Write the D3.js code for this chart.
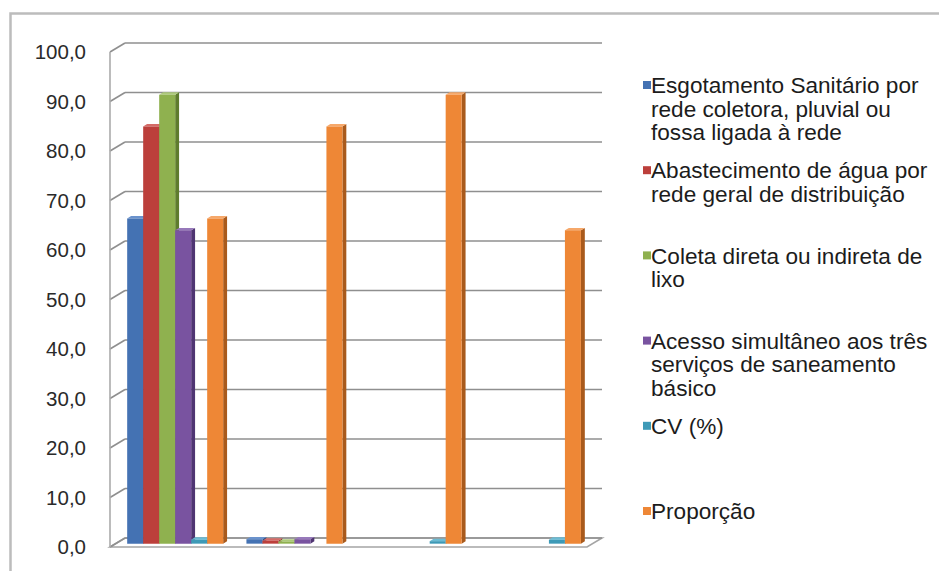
<!DOCTYPE html>
<html>
<head>
<meta charset="utf-8">
<script src="https://cdn.jsdelivr.net/npm/d3@7"></script>
<style>
  html, body { margin: 0; padding: 0; background: #ffffff; }
  svg { display: block; }
  text { font-family: "Liberation Sans", Arial, Helvetica, sans-serif; }
</style>
</head>
<body>
<svg id="chart" width="939" height="571"></svg>
<script>
// ---- data ----
const categories = ["c1", "c2", "c3", "c4"];

const seriesNames = [
  "Esgotamento Sanitário por rede coletora, pluvial ou fossa ligada à rede",
  "Abastecimento de água por rede geral de distribuição",
  "Coleta direta ou indireta de lixo",
  "Acesso simultâneo aos três serviços de saneamento básico",
  "CV (%)",
  "Proporção"
];

const legendLines = [
  ["Esgotamento Sanitário por", "rede coletora, pluvial ou", "fossa ligada à rede"],
  ["Abastecimento de água por", "rede geral de distribuição"],
  ["Coleta direta ou indireta de", "lixo"],
  ["Acesso simultâneo aos três", "serviços de saneamento", "básico"],
  ["CV (%)"],
  ["Proporção"]
];

const esgotamento   = [65.7, 0.9, 0, 0];
const abastecimento = [84.3, 0.6, 0, 0];
const coleta        = [90.7, 0.4, 0, 0];
const acesso        = [63.3, 0.9, 0, 0];
const cv            = [0.8, 0, 0.5, 0.8];
const proporcao     = [65.7, 84.3, 90.7, 63.3];

const yTicks = [0, 10, 20, 30, 40, 50, 60, 70, 80, 90, 100];

// ---- styles ----
const frontColors = ["#4472b3", "#bc3f3b", "#8fb14f", "#7953a0", "#3e9ab7", "#ee8736"];
const sideColors  = ["#2b4f86", "#862a27", "#5f7c2e", "#4f3572", "#27708a", "#a95a1c"];
const topColors   = ["#6a92cc", "#d46b67", "#acc97a", "#9779ba", "#6bbbd3", "#f6a86a"];

const seriesValues = [esgotamento, abastecimento, coleta, acesso, cv, proporcao];

const svg = d3.select("#chart");
const W = 939, H = 571;

// outer frame (top and left edges)
svg.append("path")
  .attr("d", `M10.5,${H + 2} L10.5,13.5 L${W + 2},13.5`)
  .attr("fill", "none")
  .attr("stroke", "#bcbcbc")
  .attr("stroke-width", 2.5);

// ---- scales & projection ----
const plot = { left: 110, right: 587, bottom: 547, top: 52 };
const depth = { dx: 15, dy: -9 };

const y = d3.scaleLinear().domain([0, 100]).range([plot.bottom, plot.top]);
const x = d3.scaleBand().domain(categories)
  .range([plot.left, plot.right])
  .paddingInner(0.195).paddingOuter(0.0975);
const xs = d3.scaleBand().domain(d3.range(seriesValues.length)).range([0, x.bandwidth()]);

// oblique projection: t = 0 front plane, t = 1 back wall
const P = (px, py, t) => [px + t * depth.dx, py + t * depth.dy];
const poly = pts => "M" + pts.map(p => p.join(",")).join("L") + "Z";

const fmt = d3.formatLocale({ decimal: ",", thousands: ".", grouping: [3], currency: ["R$", ""] }).format(".1f");

// ---- walls & gridlines ----
const grid = svg.append("g").attr("fill", "none").attr("stroke", "#8f8f8f").attr("stroke-width", 1.6);

// floor
grid.append("path")
  .attr("d", poly([P(plot.left, y(0), 0), P(plot.right, y(0), 0), P(plot.right, y(0), 1), P(plot.left, y(0), 1)]))
  .attr("stroke", "#a5a5a5");

yTicks.forEach(v => {
  // side wall
  grid.append("path")
    .attr("d", "M" + P(plot.left, y(v), 0).join(",") + "L" + P(plot.left, y(v), 1).join(","));
  // back wall
  grid.append("path")
    .attr("d", "M" + P(plot.left, y(v), 1).join(",") + "L" + P(plot.right, y(v), 1).join(","));
});

// value axis line
grid.append("path")
  .attr("d", `M${plot.left},${y(100)}L${plot.left},${y(0)}`)
  .attr("stroke", "#ababab");

// y tick labels
svg.append("g").selectAll("text").data(yTicks).join("text")
  .attr("x", 86)
  .attr("y", d => y(d))
  .attr("dy", "0.36em")
  .attr("text-anchor", "end")
  .attr("font-size", 20.5)
  .attr("fill", "#2a2a2a")
  .text(d => fmt(d));

// ---- bars ----
const zf = 0.37, zb = 0.63;
const bars = svg.append("g");
categories.forEach((c, ci) => {
  seriesValues.forEach((vals, si) => {
    const v = vals[ci];
    if (!v) return;
    const x0 = x(c) + xs(si), x1 = x0 + xs.bandwidth();
    const yt = y(v), yb = y(0);
    const g = bars.append("g");
    g.append("path")
      .attr("d", poly([P(x1, yb, zf), P(x1, yt, zf), P(x1, yt, zb), P(x1, yb, zb)]))
      .attr("fill", sideColors[si]);
    g.append("path")
      .attr("d", poly([P(x0, yt, zf), P(x1, yt, zf), P(x1, yt, zb), P(x0, yt, zb)]))
      .attr("fill", topColors[si]);
    g.append("path")
      .attr("d", poly([P(x0, yb, zf), P(x1, yb, zf), P(x1, yt, zf), P(x0, yt, zf)]))
      .attr("fill", frontColors[si]);
  });
});

// ---- legend ----
const legend = svg.append("g");
const legTop = 85, legStep = 85.2, lineH = 23.5;
legendLines.forEach((lines, i) => {
  const yc = legTop + i * legStep;
  legend.append("rect")
    .attr("x", 643).attr("y", yc - 4)
    .attr("width", 8).attr("height", 8)
    .attr("fill", frontColors[i]);
  const t = legend.append("text")
    .attr("font-size", 22.6)
    .attr("fill", "#1c1c1c");
  lines.forEach((ln, j) => {
    t.append("tspan")
      .attr("x", 651)
      .attr("y", yc + j * lineH)
      .attr("dy", "0.36em")
      .text(ln);
  });
});
</script>
</body>
</html>
